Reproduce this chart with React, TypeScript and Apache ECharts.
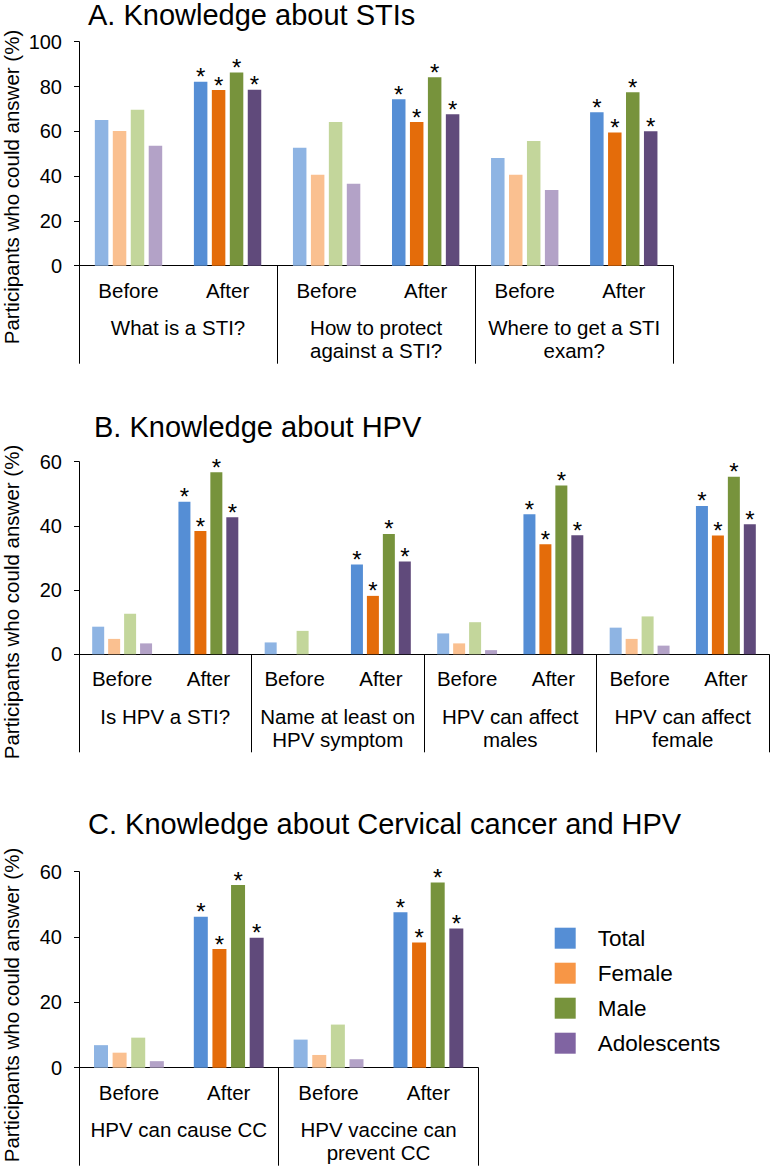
import React, { useEffect, useRef } from 'react';
import * as echarts from 'echarts';

// ---------- data ----------
const seriesNames = ['Total', 'Female', 'Male', 'Adolescents'];
const phases = ['Before', 'After'];
const lightColors = ['#8EB4E3', '#FAC090', '#C3D69B', '#B3A2C7'];
const darkColors = ['#558ED5', '#E46C0A', '#77933C', '#604A7B'];
const legendColors = ['#558ED5', '#F79646', '#77933C', '#8064A2'];
const yAxisTitle = 'Participants who could answer (%)';

// Panel A
const titleA = 'A. Knowledge about STIs';
const groupsA = ['What is a STI?', 'How to protect\nagainst a STI?', 'Where to get a STI\nexam?'];
const totalA = [65.0, 82.1, 52.7, 74.3, 48.1, 68.5];
const femaleA = [60.1, 78.4, 40.6, 64.1, 40.6, 59.5];
const maleA = [69.6, 86.2, 64.1, 84.1, 55.7, 77.4];
const adolA = [53.6, 78.6, 36.6, 67.6, 33.8, 60.0];
const yMaxA = 100;

// Panel B
const titleB = 'B. Knowledge about HPV';
const groupsB = ['Is HPV a STI?', 'Name at least on\nHPV symptom', 'HPV can affect\nmales', 'HPV can affect\nfemale'];
const totalB = [8.6, 47.5, 3.7, 28.0, 6.5, 43.6, 8.3, 46.2];
const femaleB = [4.8, 38.4, 0, 18.2, 3.4, 34.3, 4.8, 37.0];
const maleB = [12.6, 56.7, 7.3, 37.5, 10.0, 52.6, 11.8, 55.3];
const adolB = [3.4, 42.7, 0, 28.9, 1.3, 37.1, 2.7, 40.5];
const yMaxB = 60;

// Panel C
const titleC = 'C. Knowledge about Cervical cancer and HPV';
const groupsC = ['HPV can cause CC', 'HPV vaccine can\nprevent CC'];
const totalC = [6.9, 46.2, 8.6, 47.6];
const femaleC = [4.6, 36.3, 3.9, 38.3];
const maleC = [9.2, 55.9, 13.2, 56.7];
const adolC = [2.0, 39.8, 2.6, 42.6];
const yMaxC = 60;

const yInterval = 20;

// ---------- layout ----------
const FONT = '"Liberation Sans", Arial, Helvetica, sans-serif';

const panels = [
  {
    title: titleA, groups: groupsA, values: [totalA, femaleA, maleA, adolA], yMax: yMaxA,
    grid: { left: 79, top: 41.7, width: 594.3, height: 224 }, barWidth: 13.5,
    titleX: 88, titleY: 14.6, yTitleY: 187,
  },
  {
    title: titleB, groups: groupsB, values: [totalB, femaleB, maleB, adolB], yMax: yMaxB,
    grid: { left: 79, top: 461.7, width: 690, height: 192.6 }, barWidth: 12,
    titleX: 94, titleY: 426.7, yTitleY: 602,
  },
  {
    title: titleC, groups: groupsC, values: [totalC, femaleC, maleC, adolC], yMax: yMaxC,
    grid: { left: 79, top: 871.7, width: 399.3, height: 196 }, barWidth: 14,
    titleX: 88, titleY: 824.2, yTitleY: 1005,
  },
];

function buildOption() {
  const grid: any[] = [];
  const xAxis: any[] = [];
  const yAxis: any[] = [];
  const series: any[] = [];
  const graphic: any[] = [];

  panels.forEach((p, i) => {
    grid.push({ ...p.grid });
    // Before / After axis
    xAxis.push({
      type: 'category',
      gridIndex: i,
      position: 'bottom',
      data: p.groups.flatMap(() => phases),
      axisLine: { show: false },
      axisTick: { show: false },
      axisLabel: { interval: 0, margin: 14, fontSize: 20.5, color: '#000', fontFamily: FONT },
      splitLine: { show: false },
    });
    // group axis with divider ticks
    xAxis.push({
      type: 'category',
      gridIndex: i,
      position: 'bottom',
      data: p.groups,
      axisLine: { show: true, lineStyle: { color: '#000', width: 1 } },
      axisTick: { show: true, interval: 0, length: 98, lineStyle: { color: '#000', width: 1 } },
      axisLabel: { interval: 0, margin: 50, fontSize: 20.5, lineHeight: 23.5, color: '#000', fontFamily: FONT },
      splitLine: { show: false },
    });
    yAxis.push({
      type: 'value',
      gridIndex: i,
      min: 0,
      max: p.yMax,
      interval: yInterval,
      axisLine: { show: true, lineStyle: { color: '#000', width: 1 } },
      axisTick: { show: true, length: 5, lineStyle: { color: '#000' } },
      axisLabel: { margin: 17, fontSize: 20, color: '#000', fontFamily: FONT },
      splitLine: { show: false },
    });
    p.values.forEach((vals, s) => {
      series.push({
        type: 'bar',
        name: seriesNames[s],
        xAxisIndex: i * 2,
        yAxisIndex: i,
        data: vals,
        barWidth: p.barWidth,
        barGap: '33%',
        itemStyle: {
          color: (d: any) => (phases[d.dataIndex % 2] === 'After' ? darkColors[s] : lightColors[s]),
        },
        label: {
          show: true,
          position: 'top',
          distance: 0,
          offset: [0, 7],
          formatter: (d: any) => (phases[d.dataIndex % 2] === 'After' ? '*' : ''),
          fontSize: 24,
          color: '#000',
          fontFamily: FONT,
        },
        emphasis: { disabled: true },
      });
    });
    graphic.push({
      type: 'text',
      x: p.titleX,
      y: p.titleY,
      style: { text: p.title, fontSize: 29, fontFamily: FONT, fill: '#000', verticalAlign: 'middle', align: 'left' },
    });
    graphic.push({
      type: 'text',
      x: 11,
      y: p.yTitleY,
      rotation: Math.PI / 2,
      style: { text: yAxisTitle, fontSize: 20.5, fontFamily: FONT, fill: '#000', verticalAlign: 'middle', align: 'center' },
    });
  });

  return {
    animation: false,
    backgroundColor: '#fff',
    textStyle: { fontFamily: FONT },
    grid,
    xAxis,
    yAxis,
    series,
    graphic,
    legend: {
      orient: 'vertical',
      left: 554.7,
      top: 926.7,
      padding: 0,
      itemWidth: 21,
      itemHeight: 21,
      itemGap: 12,
      icon: 'rect',
      selectedMode: false,
      textStyle: { fontSize: 22.5, color: '#000', fontFamily: FONT, padding: [0, 0, 0, 17] },
      data: seriesNames.map((n, i) => ({ name: n, itemStyle: { color: legendColors[i] } })),
    },
  };
}

export default function App() {
  const ref = useRef<HTMLDivElement>(null);
  useEffect(() => {
    if (!ref.current) return;
    const chart = echarts.init(ref.current, null, { renderer: 'svg' });
    chart.setOption(buildOption() as any);
    return () => chart.dispose();
  }, []);
  return (
    <div
      ref={ref}
      style={{ position: 'absolute', left: 0, top: 0, width: 770, height: 1167, background: '#fff' }}
    />
  );
}
